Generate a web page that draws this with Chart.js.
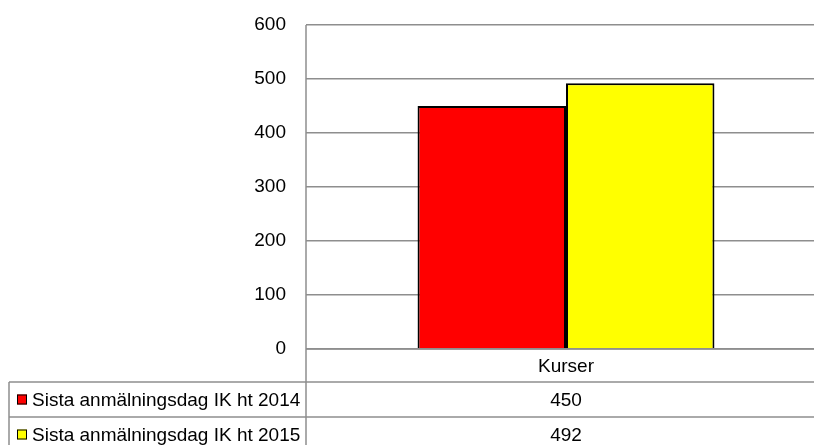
<!DOCTYPE html>
<html>
<head>
<meta charset="utf-8">
<script src="https://cdn.jsdelivr.net/npm/chart.js@4/dist/chart.umd.min.js"></script>
<style>
  html, body { margin: 0; padding: 0; overflow: hidden; background: #fff; }
  canvas { display: block; }
</style>
</head>
<body>
<canvas id="myChart" width="830" height="445"></canvas>
<script>
// Data
var categories = ['Kurser'];
var seriesNames = ['Sista anmälningsdag IK ht 2014', 'Sista anmälningsdag IK ht 2015'];
var values2014 = [450];
var values2015 = [492];
var seriesColors = ['#ff0000', '#ffff00'];

var gridColor = '#8e8e8e';
var fontFamily = '"Liberation Sans", Arial, sans-serif';

// Desenha a tabela de dados abaixo do gráfico
var dataTablePlugin = {
  id: 'dataTable',
  afterDraw: function(chart) {
    var ctx = chart.ctx;
    var area = chart.chartArea;
    var xScale = chart.scales.x;
    var right = chart.width;
    var rowTop = [area.bottom, 382, 417];
    var rowH = [33, 35, 35];
    var tableLeft = 9;

    ctx.save();
    ctx.strokeStyle = gridColor;
    ctx.lineWidth = 1.5;

    // linhas horizontais
    ctx.beginPath();
    ctx.moveTo(area.left, rowTop[0]);
    ctx.lineTo(right, rowTop[0]);
    for (var i = 1; i < rowTop.length; i++) {
      ctx.moveTo(tableLeft, rowTop[i]);
      ctx.lineTo(right, rowTop[i]);
    }
    // linhas verticais
    ctx.moveTo(area.left, area.top);
    ctx.lineTo(area.left, chart.height);
    ctx.moveTo(tableLeft, rowTop[1]);
    ctx.lineTo(tableLeft, chart.height);
    ctx.stroke();

    ctx.font = '19px ' + fontFamily;
    ctx.fillStyle = '#000';
    ctx.textBaseline = 'middle';

    // categorias
    ctx.textAlign = 'center';
    categories.forEach(function(cat, idx) {
      var cx = xScale.getPixelForValue(idx);
      ctx.fillText(cat, cx, rowTop[0] + rowH[0] / 2 + 1);
    });

    // séries
    var allValues = [values2014, values2015];
    for (var s = 0; s < seriesNames.length; s++) {
      var cy = rowTop[s + 1] + rowH[s + 1] / 2;
      ctx.fillStyle = seriesColors[s];
      ctx.fillRect(17, cy - 5, 10, 10);
      ctx.strokeStyle = '#000';
      ctx.lineWidth = 1;
      ctx.strokeRect(17.5, cy - 4.5, 9, 9);
      ctx.fillStyle = '#000';
      ctx.textAlign = 'left';
      ctx.fillText(seriesNames[s], 32, cy + 1);
      ctx.textAlign = 'center';
      allValues[s].forEach(function(v, idx) {
        ctx.fillText(String(v), xScale.getPixelForValue(idx), cy + 1);
      });
    }
    ctx.restore();
  }
};

var chart = new Chart(document.getElementById('myChart').getContext('2d'), {
  type: 'bar',
  data: {
    labels: categories,
    datasets: [{
      label: seriesNames[0],
      data: values2014,
      backgroundColor: seriesColors[0],
      borderColor: '#000',
      borderWidth: 2
    }, {
      label: seriesNames[1],
      data: values2015,
      backgroundColor: seriesColors[1],
      borderColor: '#000',
      borderWidth: 2
    }]
  },
  options: {
    responsive: false,
    animation: false,
    devicePixelRatio: 1,
    categoryPercentage: 0.571,
    barPercentage: 1,
    layout: { padding: { left: 0, top: 25, right: 4, bottom: 96 } },
    plugins: {
      legend: { display: false },
      tooltip: { enabled: false }
    },
    scales: {
      x: {
        ticks: { display: false },
        grid: { display: false, drawTicks: false },
        border: { display: false },
        afterFit: function(s) { s.height = 0; }
      },
      y: {
        min: 0,
        max: 600,
        ticks: {
          stepSize: 100,
          color: '#000',
          padding: 20,
          font: { family: fontFamily, size: 19 }
        },
        grid: { color: gridColor, lineWidth: 1.5, drawTicks: false },
        border: { display: false },
        afterFit: function(s) {
          s.width = 306;
          s.paddingTop = 0;
          s.paddingBottom = 0;
        }
      }
    }
  },
  plugins: [dataTablePlugin]
});
</script>
</body>
</html>
